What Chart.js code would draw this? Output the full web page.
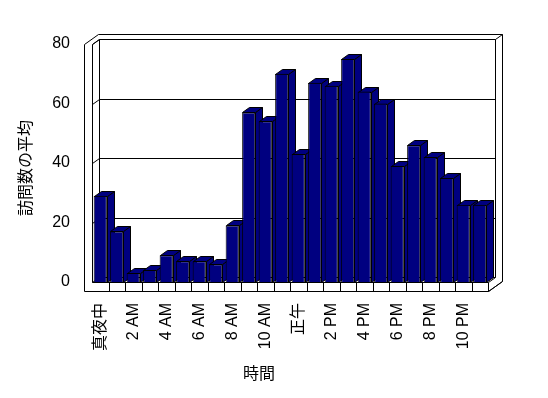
<!DOCTYPE html>
<html lang="ja">
<head>
<meta charset="utf-8">
<script src="https://cdn.jsdelivr.net/npm/chart.js@4.4.0/dist/chart.umd.min.js"></script>
<style>
  html, body { margin: 0; padding: 0; background: #fff; }
</style>
</head>
<body>
<canvas id="chart" width="548" height="398"></canvas>
<script>
// 時間帯ごとの平均訪問数
const hours = ['真夜中', '1 AM', '2 AM', '3 AM', '4 AM', '5 AM', '6 AM', '7 AM', '8 AM', '9 AM', '10 AM', '11 AM',
               '正午', '1 PM', '2 PM', '3 PM', '4 PM', '5 PM', '6 PM', '7 PM', '8 PM', '9 PM', '10 PM', '11 PM'];
const visits = [29, 17, 3, 4, 9, 7, 7, 6, 19, 57, 54, 70, 43, 67, 66, 75, 64, 60, 39, 46, 42, 35, 26, 26];
const yTicks = [0, 20, 40, 60, 80];
const xTitle = '時間';
const yTitle = '訪問数の平均';

const FONT = '"Liberation Sans", "Noto Sans CJK JP", sans-serif';
const NAVY = '#000080';
// 奥行き (3D風の見た目)
const DX = 7, DY = -5, WALL = 8, FLOOR = 9;

const px = v => Math.round(v) + 0.5;

function path(ctx, pts, fill) {
    ctx.beginPath();
    pts.forEach(([x, y], i) => i ? ctx.lineTo(px(x), px(y)) : ctx.moveTo(px(x), px(y)));
    if (fill) {
        ctx.closePath();
        ctx.fillStyle = fill;
        ctx.fill();
    }
    ctx.stroke();
}

const box3d = {
    id: 'box3d',
    beforeDatasetsDraw(chart) {
        const { ctx, chartArea: a, scales: { x, y } } = chart;
        const L = a.left, R = a.right, T = a.top, B = a.bottom;
        ctx.save();
        ctx.strokeStyle = '#000';
        ctx.lineWidth = 1;

        // 外枠
        path(ctx, [[L - WALL, B + FLOOR], [L - WALL, T], [L - WALL + 2 * DX, T + 2 * DY], [R + 2 * DX, T + 2 * DY],
                   [R + 2 * DX, B + FLOOR + 2 * DY], [R, B + FLOOR], [L - WALL, B + FLOOR]]);

        // 左の壁と奥の壁
        path(ctx, [[L, B], [L, T], [L + DX, T + DY], [R + DX, T + DY], [R + 2 * DX, T + 2 * DY]]);
        path(ctx, [[R + DX, T + DY], [R + DX, B + DY], [R, B]]);
        path(ctx, [[L + DX, T + DY], [L + DX, B + DY]]);

        // 目盛線
        yTicks.forEach(v => {
            const yp = y.getPixelForValue(v);
            path(ctx, [[L, yp], [L + DX, yp + DY], [R + DX, yp + DY]]);
        });

        // 床
        path(ctx, [[L, B], [R, B], [R, B + FLOOR], [R + 2 * DX, B + FLOOR + 2 * DY]]);
        for (let i = 1; i < hours.length; i++) {
            const xb = (x.getPixelForValue(i - 1) + x.getPixelForValue(i)) / 2;
            path(ctx, [[xb, B], [xb, B + FLOOR]]);
        }

        // 棒の側面と上面
        chart.getDatasetMeta(0).data.forEach(bar => {
            const { x: cx, y: top, base, width } = bar.getProps(['x', 'y', 'base', 'width'], true);
            const left = cx - width / 2, right = cx + width / 2;
            path(ctx, [[right, top], [right + DX, top + DY], [right + DX, base + DY], [right, base]], NAVY);
            path(ctx, [[left, top], [left + DX, top + DY], [right + DX, top + DY], [right, top]], NAVY);
        });
        ctx.restore();
    },
    afterDraw(chart) {
        // 軸タイトル
        const { ctx } = chart;
        ctx.save();
        ctx.font = '16px ' + FONT;
        ctx.fillStyle = '#000';
        ctx.textAlign = 'center';
        ctx.textBaseline = 'middle';
        ctx.fillText(xTitle, 259, 375);
        ctx.translate(27, 168);
        ctx.rotate(-Math.PI / 2);
        ctx.fillText(yTitle, 0, 0);
        ctx.restore();
    }
};

Chart.defaults.color = '#000';
Chart.defaults.font.family = FONT;
Chart.defaults.font.size = 16;

new Chart(document.getElementById('chart'), {
    type: 'bar',
    data: {
        labels: hours,
        datasets: [{
            data: visits,
            backgroundColor: NAVY,
            borderColor: '#000',
            borderWidth: 1,
            barPercentage: 0.8,
            categoryPercentage: 1
        }]
    },
    options: {
        responsive: false,
        animation: false,
        devicePixelRatio: 1,
        layout: { padding: { top: 44, right: 60, bottom: 0, left: 0 } },
        plugins: {
            legend: { display: false },
            tooltip: { enabled: false }
        },
        scales: {
            x: {
                grid: { display: false, drawTicks: false },
                border: { display: false },
                ticks: {
                    autoSkip: false,
                    minRotation: 90,
                    maxRotation: 90,
                    padding: 21,
                    callback: (val, i) => i % 2 === 0 ? hours[i] : ''
                },
                afterFit: scale => { scale.height = 116; }
            },
            y: {
                min: yTicks[0],
                max: yTicks[yTicks.length - 1],
                grid: { display: false, drawTicks: false },
                border: { display: false },
                ticks: { stepSize: 20, padding: 22 },
                afterFit: scale => { scale.width = 92; }
            }
        }
    },
    plugins: [box3d]
});
</script>
</body>
</html>
